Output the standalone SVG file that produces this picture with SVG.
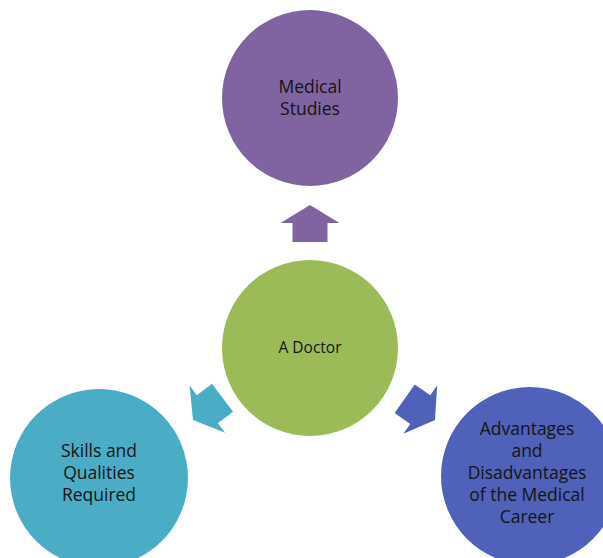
<svg xmlns="http://www.w3.org/2000/svg" width="603" height="558" viewBox="0 0 603 558">
<defs>
<style>
.lbl{font-family:"Open Sans","Liberation Sans",sans-serif;font-size:17.5px;fill:#141414;text-anchor:middle}
.sm{font-size:15.5px}
</style>
<polygon id="arrow" points="0,0 29.5,18 17.5,18 17.5,37 -17.5,37 -17.5,18 -29.5,18"/>
</defs>
<rect width="603" height="558" fill="#ffffff"/>
<g id="connectors">
<use href="#arrow" transform="translate(310,205)" fill="#8064A2"/>
<use href="#arrow" transform="translate(193,420) rotate(-127)" fill="#4BACC6"/>
<use href="#arrow" transform="translate(435,420) rotate(125)" fill="#4F61B8"/>
</g>
<g id="medical-studies">
<circle cx="310" cy="98" r="88" fill="#8064A2"/>
<text class="lbl" x="310" y="93">Medical</text>
<text class="lbl" x="310" y="115">Studies</text>
</g>
<g id="a-doctor">
<circle cx="310" cy="348" r="88" fill="#9BBB59"/>
<text class="lbl sm" x="310" y="353">A Doctor</text>
</g>
<g id="skills">
<circle cx="99" cy="478" r="89" fill="#4BACC6"/>
<text class="lbl" x="99" y="457">Skills and</text>
<text class="lbl" x="99" y="479">Qualities</text>
<text class="lbl" x="99" y="501">Required</text>
</g>
<g id="advantages">
<circle cx="530" cy="476" r="89" fill="#4F61B8"/>
<text class="lbl" x="527" y="435">Advantages</text>
<text class="lbl" x="527" y="457">and</text>
<text class="lbl" x="527" y="479">Disadvantages</text>
<text class="lbl" x="527" y="501">of the Medical</text>
<text class="lbl" x="527" y="523">Career</text>
</g>
</svg>
